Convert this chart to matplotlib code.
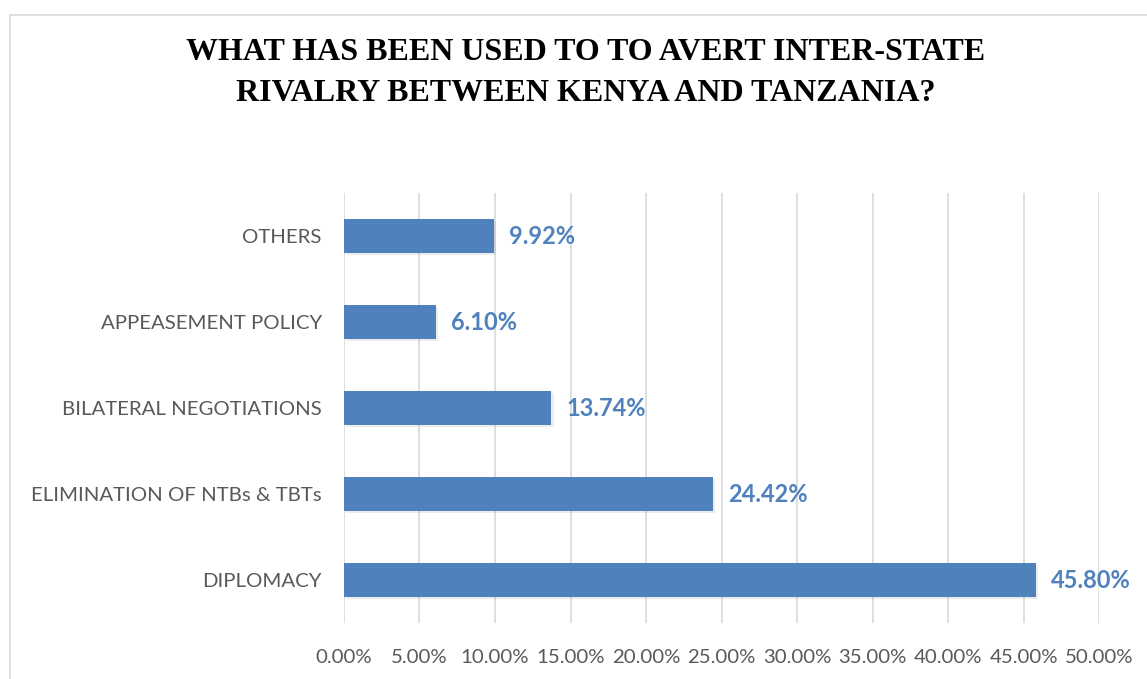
import matplotlib.pyplot as plt
import matplotlib.patheffects as pe
from matplotlib.patches import Rectangle
from matplotlib.ticker import PercentFormatter

# Survey responses: measures used to avert inter-state rivalry
categories = ['DIPLOMACY', 'ELIMINATION OF NTBs & TBTs', 'BILATERAL NEGOTIATIONS',
              'APPEASEMENT POLICY', 'OTHERS']
shares = [45.80, 24.42, 13.74, 6.10, 9.92]
xticks = [0, 5, 10, 15, 20, 25, 30, 35, 40, 45, 50]

bar_color = '#4F81BD'
text_gray = '#595959'

fig = plt.figure(figsize=(11.47, 6.79), dpi=100)
fig.patches.append(Rectangle((10 / 1147, -0.01), 1.02, (679 - 15) / 679 + 0.01,
                             transform=fig.transFigure, fill=False,
                             edgecolor='#D9D9D9', linewidth=1.2))

ax = fig.add_axes([344 / 1147, 56 / 679, 755 / 1147, 430 / 679])

bars = ax.barh(range(len(categories)), shares, height=0.4, color=bar_color, zorder=3)
for b in bars:
    b.set_path_effects([pe.SimplePatchShadow(offset=(1.5, -1.5), shadow_rgbFace='#000000', alpha=0.07),
                        pe.Normal()])

for i, v in enumerate(shares):
    ax.text(v + 1.0, i, f'{v:.2f}%', va='center', ha='left', color=bar_color,
            fontsize=17, fontweight='bold', family='Lato')

ax.set_xlim(0, 50)
ax.set_ylim(-0.5, len(categories) - 0.5)
ax.set_xticks(xticks)
ax.xaxis.set_major_formatter(PercentFormatter(decimals=2))
ax.set_yticks(range(len(categories)))
ax.set_yticklabels(categories)
ax.tick_params(axis='both', length=0, labelcolor=text_gray, labelsize=14.7)
ax.tick_params(axis='y', pad=16)
ax.tick_params(axis='x', pad=19)
for lab in ax.get_xticklabels() + ax.get_yticklabels():
    lab.set_family('Lato')

ax.grid(axis='x', color='#D9D9D9', linewidth=1.2, zorder=0)
for s in ax.spines.values():
    s.set_visible(False)

fig.text(586 / 1147, 1 - 73 / 679,
         'WHAT HAS BEEN USED TO TO AVERT INTER-STATE\nRIVALRY BETWEEN KENYA AND TANZANIA?',
         ha='center', va='center', fontsize=23, fontweight='bold',
         family='Liberation Serif', linespacing=1.55)

fig.savefig('out.png', dpi=100)
